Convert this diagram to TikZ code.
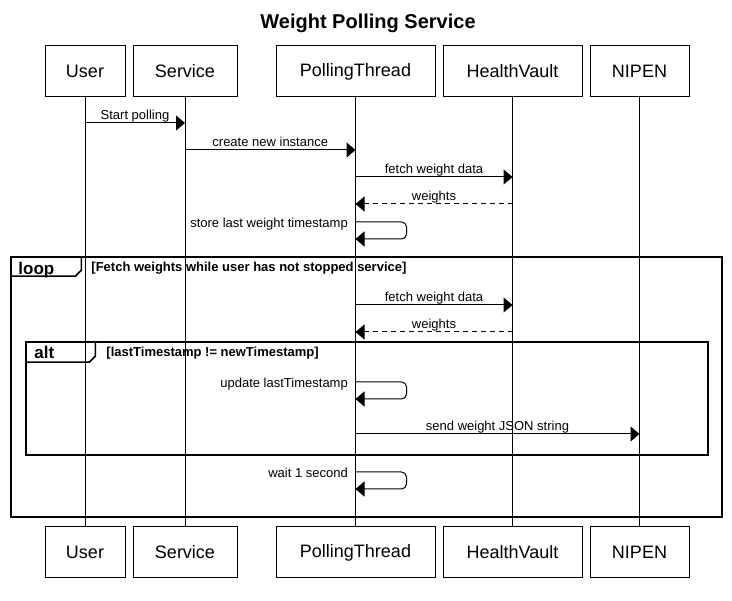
\documentclass[tikz,border=0pt]{standalone}
\usepackage{fontspec}
\setmainfont{Liberation Sans}
\usepackage{tikz}
\usetikzlibrary{arrows.meta}
\usetikzlibrary{positioning}
\tikzset{part/.style = {draw, line width = 1pt, minimum height = 51, inner sep = 0, font = \fontsize{18}{20}\selectfont}}
\tikzset{life/.style = {line width = 1pt}}
\tikzset{msg/.style = {line width = 1pt, -{Triangle[length = 9pt, width = 15pt]}}}
\tikzset{reply/.style = {msg, dash pattern = on 5pt off 4pt}}
\tikzset{lbl/.style = {anchor = base, yshift = 3pt, inner sep = 0, font = \fontsize{13}{15}\selectfont}}
\tikzset{selflbl/.style = {anchor = base east, inner sep = 0, font = \fontsize{13}{15}\selectfont}}
\tikzset{frame/.style = {draw, line width = 1.5pt, inner sep = 0}}
\tikzset{tabtxt/.style = {anchor = base west, inner sep = 0, font = \bfseries\fontsize{17}{19}\selectfont}}
\tikzset{guard/.style = {anchor = base west, inner sep = 0, font = \bfseries\fontsize{13}{15}\selectfont}}

\begin{document}
\begin{tikzpicture}[x = 1pt, y = -1pt]
    \useasboundingbox (0, 0) rectangle (732, 601);

    \node [font = \bfseries\fontsize{20}{24}\selectfont] (title) at (368, 23) {Weight Polling Service};

    \node [frame, minimum width = 711, minimum height = 260] (loop) at (366.5, 387) {};
    \draw [frame] (loop.north west) ++(0, 20) -- ++(65, 0) -- ++(6, -6) -- ++(0, -14);
    \node [tabtxt] (loop-tag) at ([shift = {(8, 18)}] loop.north west) {loop};
    \node [guard] (loop-guard) at ([shift = {(81, 15)}] loop.north west) {[Fetch weights while user has not stopped service]};

    \node [frame, minimum width = 682, minimum height = 113] (alt) at (367, 398.5) {};
    \draw [frame] (alt.north west) ++(0, 21) -- ++(64, 0) -- ++(6, -6) -- ++(0, -15);
    \node [tabtxt] (alt-tag) at ([shift = {(9, 17.5)}] alt.north west) {alt};
    \node [guard] (alt-guard) at ([shift = {(81, 15)}] alt.north west) {[lastTimestamp != newTimestamp]};

    \foreach \id/\x/\w/\txt in {user/85/80/User, service/185/104/Service, thread/355.5/159/PollingThread, vault/512.5/139/HealthVault, nipen/639.5/99/NIPEN} {
      \node [part, minimum width = \w] (\id-top) at (\x, 71.5) {\txt};
      \node [part, minimum width = \w] (\id-bot) at (\x, 552.5) {\txt};
      \draw [life] (\id-top) -- (\id-bot);
    }

    \coordinate (start-a) at (85, 123);
    \coordinate (start-b) at (185, 123);
    \draw [msg] (start-a) -- node [lbl] {Start polling} (start-b);

    \coordinate (create-a) at (185, 150);
    \coordinate (create-b) at (355.5, 150);
    \draw [msg] (create-a) -- node [lbl] {create new instance} (create-b);

    \coordinate (fetch-a) at (355.5, 177);
    \coordinate (fetch-b) at (512.5, 177);
    \draw [msg] (fetch-a) -- node [lbl] {fetch weight data} (fetch-b);

    \coordinate (weights-a) at (512.5, 204);
    \coordinate (weights-b) at (355.5, 204);
    \draw [reply] (weights-a) -- node [lbl] {weights} (weights-b);

    \coordinate (store-a) at (355.5, 222);
    \coordinate (store-b) at (355.5, 239);
    \node [selflbl] (store-lbl) at (348, 228) {store last weight timestamp};
    \draw [msg, rounded corners = 5] (store-a) -- ++(51, 0) -- ++(0, 17) -- (store-b);

    \coordinate (fetch2-a) at (355.5, 305);
    \coordinate (fetch2-b) at (512.5, 305);
    \draw [msg] (fetch2-a) -- node [lbl] {fetch weight data} (fetch2-b);

    \coordinate (weights2-a) at (512.5, 332);
    \coordinate (weights2-b) at (355.5, 332);
    \draw [reply] (weights2-a) -- node [lbl] {weights} (weights2-b);

    \coordinate (update-a) at (355.5, 382);
    \coordinate (update-b) at (355.5, 399);
    \node [selflbl] (update-lbl) at (348, 388) {update lastTimestamp};
    \draw [msg, rounded corners = 5] (update-a) -- ++(51, 0) -- ++(0, 17) -- (update-b);

    \coordinate (send-a) at (355.5, 434);
    \coordinate (send-b) at (639.5, 434);
    \draw [msg] (send-a) -- node [lbl] {send weight JSON string} (send-b);

    \coordinate (wait-a) at (355.5, 472);
    \coordinate (wait-b) at (355.5, 489);
    \node [selflbl] (wait-lbl) at (348, 478) {wait 1 second};
    \draw [msg, rounded corners = 5] (wait-a) -- ++(51, 0) -- ++(0, 17) -- (wait-b);
  \end{tikzpicture}
\end{document}
